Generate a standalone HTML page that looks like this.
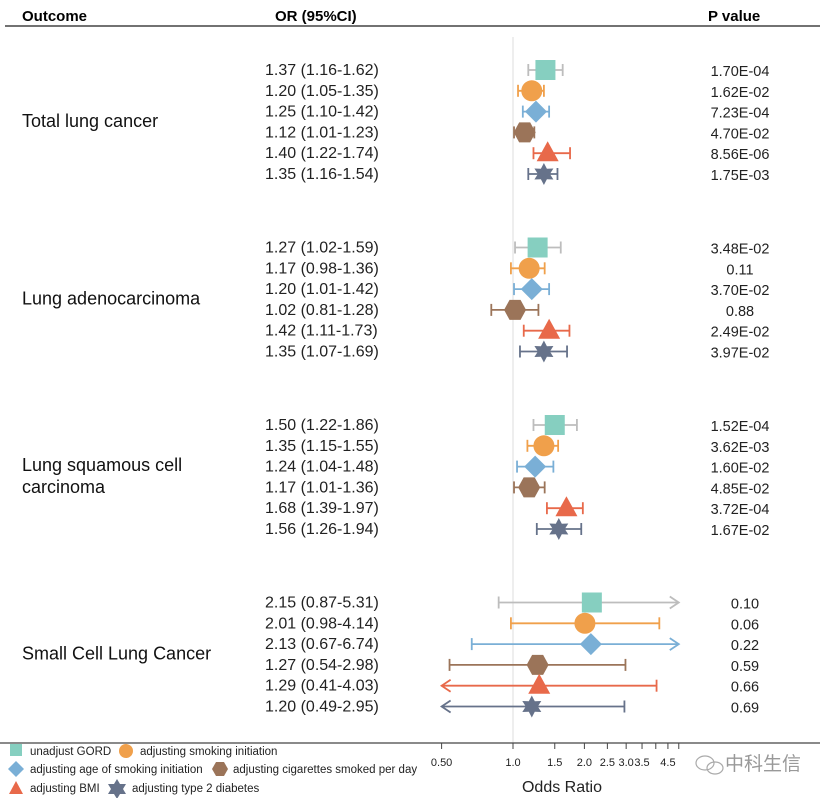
<!DOCTYPE html>
<html><head><meta charset="utf-8"><style>
body{margin:0;background:#fff;}
svg{display:block;font-family:"Liberation Sans","Noto Sans CJK SC",sans-serif;}
</style></head><body>
<svg id="c" width="834" height="798" viewBox="0 0 834 798">
<line x1="5" y1="26" x2="820" y2="26" stroke="#444" stroke-width="1.5"/>
<text x="22" y="21" font-size="15" font-weight="bold">Outcome</text>
<text x="275" y="21" font-size="15" font-weight="bold">OR (95%CI)</text>
<text x="708" y="21" font-size="15" font-weight="bold">P value</text>
<g id="plot"></g>
<line x1="0" y1="743" x2="820" y2="743" stroke="#444" stroke-width="1.2"/>
<g id="axis"></g>
<text x="562" y="792" font-size="16" text-anchor="middle" fill="#222">Odds Ratio</text>
<g fill="none" stroke="#aaa" stroke-width="1.2">
<ellipse cx="705" cy="763" rx="9" ry="7"/><ellipse cx="715" cy="768" rx="8" ry="6"/>
</g>
<text x="725" y="770" font-size="19" fill="#999">中科生信</text>
<g id="legend" font-size="11.5" fill="#222">
<rect x="10" y="744" width="12" height="12" fill="#86cfc0"/>
<text x="30" y="755">unadjust GORD</text>
<circle cx="126" cy="751" r="7" fill="#f0a04b"/>
<text x="140" y="755">adjusting smoking initiation</text>
<path d="M16 761 L24 769 L16 777 L8 769Z" fill="#7aafd6"/>
<text x="30" y="773">adjusting age of smoking initiation</text>
<path d="M216 762 L224 762 L228 769 L224 776 L216 776 L212 769Z" fill="#9b7459"/>
<text x="233" y="773">adjusting cigarettes smoked per day</text>
<path d="M16 781 L23 794 L9 794Z" fill="#e8694a"/>
<text x="30" y="792">adjusting BMI</text>
<path d="M117 779 L120 784 L126 784 L123 789 L126 794 L120 794 L117 799 L114 794 L108 794 L111 789 L108 784 L114 784Z" fill="#66728a"/>
<text x="132" y="792">adjusting type 2 diabetes</text>
</g>
</svg>
<script>
const groups=["Total lung cancer","Lung adenocarcinoma","Lung squamous cell|carcinoma","Small Cell Lung Cancer"];
const orVals=[[1.37,1.20,1.25,1.12,1.40,1.35],[1.27,1.17,1.20,1.02,1.42,1.35],[1.50,1.35,1.24,1.17,1.68,1.56],[2.15,2.01,2.13,1.27,1.29,1.20]];
const lowVals=[[1.16,1.05,1.10,1.01,1.22,1.16],[1.02,0.98,1.01,0.81,1.11,1.07],[1.22,1.15,1.04,1.01,1.39,1.26],[0.87,0.98,0.67,0.54,0.41,0.49]];
const highVals=[[1.62,1.35,1.42,1.23,1.74,1.54],[1.59,1.36,1.42,1.28,1.73,1.69],[1.86,1.55,1.48,1.36,1.97,1.94],[5.31,4.14,6.74,2.98,4.03,2.95]];
const pLabels=[["1.70E-04","1.62E-02","7.23E-04","4.70E-02","8.56E-06","1.75E-03"],["3.48E-02","0.11","3.70E-02","0.88","2.49E-02","3.97E-02"],["1.52E-04","3.62E-03","1.60E-02","4.85E-02","3.72E-04","1.67E-02"],["0.10","0.06","0.22","0.59","0.66","0.69"]];
const tickVals=[0.5,1.0,1.5,2.0,2.5,3.0,3.5,4.0,4.5,5.0];
const tickLabels=["0.50","1.0","1.5","2.0","2.5","3.0","3.5","","4.5",""];
const markerNames=["unadjust","smoking","age","cigarettes","bmi","t2d"];
const NS="http://www.w3.org/2000/svg";
const xMin=0.5,xMax=5.0;
const x=v=>513+103*Math.log(v);
const y=(g,i)=>70+g*177.5+i*20.8;
const barCol=["#bdbdbd","#f0a04b","#7aafd6","#9b7459","#e8694a","#66728a"];
const fillCol=["#86cfc0","#f0a04b","#7aafd6","#9b7459","#e8694a","#66728a"];
function el(t,a,p){const e=document.createElementNS(NS,t);for(const k in a)e.setAttribute(k,a[k]);p.appendChild(e);return e;}
const plot=document.getElementById('plot'),axis=document.getElementById('axis');
const ref=el('line',{x1:513,y1:37,x2:513,y2:743,stroke:'#ddd','stroke-width':1},plot);


function marker(k,cx,cy,p){let e;const c=fillCol[k];
 if(k==0)e=el('rect',{x:cx-10,y:cy-10,width:20,height:20,fill:c},p);
 else if(k==1)e=el('circle',{cx:cx,cy:cy,r:10.5,fill:c},p);
 else if(k==2)e=el('path',{d:`M${cx} ${cy-11}L${cx+11} ${cy}L${cx} ${cy+11}L${cx-11} ${cy}Z`,fill:c},p);
 else if(k==3)e=el('path',{d:`M${cx-5.5} ${cy-10}L${cx+5.5} ${cy-10}L${cx+11} ${cy}L${cx+5.5} ${cy+10}L${cx-5.5} ${cy+10}L${cx-11} ${cy}Z`,fill:c},p);
 else if(k==4)e=el('path',{d:`M${cx} ${cy-12}L${cx+11} ${cy+8}L${cx-11} ${cy+8}Z`,fill:c},p);
 else{let d='';for(let j=0;j<12;j++){const r=j%2?6:11,a=Math.PI/6*j-Math.PI/2;d+=(j?'L':'M')+(cx+r*Math.cos(a)).toFixed(1)+' '+(cy+r*Math.sin(a)).toFixed(1);}e=el('path',{d:d+'Z',fill:c},p);}
 return e;}
groups.forEach((g,gi)=>{
 const lines=g.split('|');const gy=y(gi,2.5)+5-(lines.length-1)*11;
 lines.forEach((l,li)=>{const t=el('text',{x:22,y:gy+li*22,'font-size':18,fill:'#111'},plot);t.textContent=l;
  
  });
 orVals[gi].forEach((v,i)=>{
  const cy=y(gi,i),col=barCol[i];
  const t=el('text',{x:265,y:cy+5,'font-size':16,fill:'#222'},plot);
  t.textContent=v.toFixed(2)+' ('+lowVals[gi][i].toFixed(2)+'-'+highVals[gi][i].toFixed(2)+')';
  
  
  const pt=el('text',{x:gi==3?745:740,y:cy+6,'font-size':14.5,fill:'#222','text-anchor':'middle'},plot);
  pt.textContent=pLabels[gi][i];
  
  
  const lo=Math.max(lowVals[gi][i],xMin),hi=Math.min(highVals[gi][i],xMax);
  const x1=x(lo),x2=x(hi);
  const ln=el('line',{x1:x1,y1:cy,x2:x2,y2:cy,stroke:col,'stroke-width':1.8},plot);
  
  
  [[lowVals[gi][i]<xMin,x1,-1],[highVals[gi][i]>xMax,x2,1]].forEach(([arr,xx,s])=>{
   if(arr)el('path',{d:`M${xx-s*9} ${cy-6}L${xx} ${cy}L${xx-s*9} ${cy+6}`,fill:'none',stroke:col,'stroke-width':1.8},plot);
   else el('line',{x1:xx,y1:cy-6,x2:xx,y2:cy+6,stroke:col,'stroke-width':1.8},plot);
  });
  const m=marker(i,x(v),cy,plot);
  
  
 });
});
tickVals.forEach((v,i)=>{
 const tl=el('line',{x1:x(v),y1:743,x2:x(v),y2:749,stroke:'#444','stroke-width':1},axis);
 
 
 if(tickLabels[i]){const t=el('text',{x:x(v),y:766,'font-size':11,'text-anchor':'middle',fill:'#222'},axis);t.textContent=tickLabels[i];
 
 }
});
</script>
</body></html>
